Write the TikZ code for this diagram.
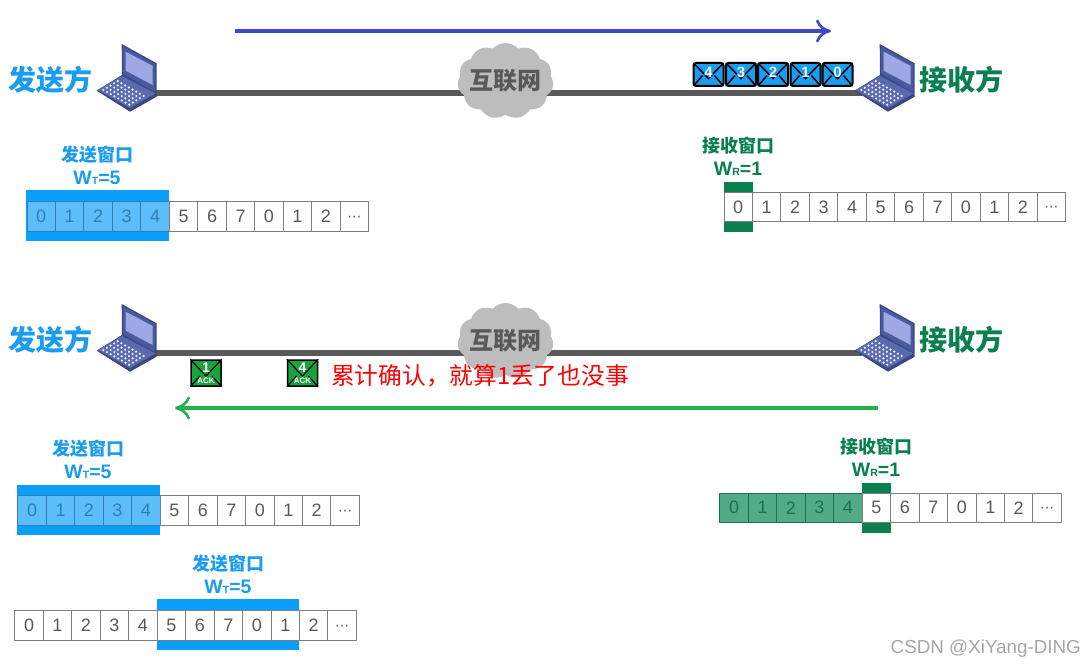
\documentclass[tikz,border=0pt]{standalone}
\usepackage{fontspec}
\setmainfont{Liberation Sans}
\newfontfamily\cjk{Noto Sans CJK SC}
\newfontfamily\sym{DejaVu Sans}
\usetikzlibrary{shapes.symbols,arrows.meta}
\definecolor{sendblue}{HTML}{1A9CF0}
\definecolor{bandblue}{HTML}{0A9FFA}
\definecolor{cellblue}{HTML}{5CBDFB}
\definecolor{digblue}{HTML}{2F7FB5}
\definecolor{recvgreen}{HTML}{0A7F4F}
\definecolor{cellgreen}{HTML}{52AB87}
\definecolor{diggreen}{HTML}{1F6E50}
\definecolor{linkgrey}{HTML}{595959}
\definecolor{cloudgrey}{HTML}{BDBDBD}
\definecolor{cellline}{HTML}{7F7F7F}
\definecolor{arrowblue}{HTML}{3F48CC}
\definecolor{arrowgreen}{HTML}{22B14C}
\definecolor{ackgreen}{HTML}{16A53C}
\definecolor{lapdark}{HTML}{3A4784}
\definecolor{lapframe}{HTML}{4A5A9F}
\definecolor{lapmid}{HTML}{5A6AAE}
\definecolor{lapscreen}{HTML}{9DA8E4}
\tikzset{
  cellbox/.style={draw=cellline,line width=1pt,minimum width=28.47pt,minimum height=29.5pt,inner sep=0pt,anchor=west,font=\fontsize{18}{18}\selectfont,text=linkgrey},
  link/.style={draw=linkgrey,line width=5.5pt},
  netcloud/.style={cloud,cloud puffs=11,cloud puff arc=95,aspect=1.25,fill=cloudgrey,draw=none,minimum width=96pt,minimum height=76pt,inner sep=0pt,
    label={[font=\cjk\bfseries\fontsize{24}{24}\selectfont,text=linkgrey]center:互联网}},
  bigside/.style={font=\cjk\bfseries\fontsize{28}{28}\selectfont,inner sep=0pt},
  wintitle/.style={font=\cjk\bfseries\fontsize{18}{18}\selectfont,inner sep=0pt},
  winsize/.style={font=\bfseries\fontsize{19.5}{20}\selectfont,inner sep=0pt},
  flow/.style={line width=4.5pt,-{Computer Modern Rightarrow[length=15pt,width=23pt,line width=2.6pt]}},
  envbox/.style={draw=black,line width=2pt,rounded corners=2.5pt,minimum width=30pt,minimum height=23pt,inner sep=0pt,fill=sendblue},
  ackbox/.style={draw=black,line width=1.5pt,rounded corners=1pt,minimum width=30pt,minimum height=26pt,inner sep=0pt,fill=ackgreen},
  laptop/.pic={
    \fill[lapdark] (24.7,0) -- (59.7,19.3) -- (59.7,52.7) -- (33,67.7) -- (-0.3,46.7) -- (25,31) -- cycle;
    \fill[lapframe] (26,2.5) -- (58,20) -- (58,48) -- (26,30) -- cycle;
    \fill[lapscreen] (28.7,7.7) -- (55.7,22) -- (55.7,41) -- (28.7,26.7) -- cycle;
    \fill[lapmid] (0.5,46) -- (25,32) -- (58.5,49.5) -- (33,64) -- cycle;
    \foreach \i in {0,...,7}{\foreach \j in {0,...,4}{
      \fill[white!80!lapscreen] ({6.3+\i*3.7+\j*3.6},{46+\i*2.1-\j*2.2}) circle (1.25pt);}}
  },
}
\newcommand\cellrow[6]{% name, x, y, shaded count, fill, digit colour
  \foreach \d [count=\i from 0] in {0,1,2,3,4,5,6,7,0,1,2,{\raisebox{-5pt}[0pt][0pt]{\sym\fontsize{14}{14}\selectfont ⋯}}}{
    \pgfmathsetmacro\cx{#2+\i*28.47}
    \ifnum\i<#4\relax
      \node[cellbox,fill=#5,text=#6,draw=#6] (#1-\i) at (\cx,#3) {\d};
    \else
      \node[cellbox,fill=white] (#1-\i) at (\cx,#3) {\d};
    \fi
  }}
\newcommand\envelope[4]{% name, x, y, digit
  \node[envbox] (#1) at (#2,#3) {};
  \draw[black,line width=1.5pt] ([shift={(1pt,-1pt)}]#1.north west) -- ([yshift=-4pt]#1.center) -- ([shift={(-1pt,-1pt)}]#1.north east);
  \draw[black,line width=1.5pt] ([shift={(1pt,1pt)}]#1.south west) -- ([xshift=-6pt,yshift=-1pt]#1.center) ([xshift=6pt,yshift=-1pt]#1.center) -- ([shift={(-1pt,1pt)}]#1.south east);
  \node[text=white!92!sendblue,font=\bfseries\fontsize{15}{15}\selectfont,inner sep=0pt] at ([yshift=2.5pt]#1.center) {#4};}
\newcommand\ackenv[4]{% name, x, y, digit
  \node[ackbox] (#1) at (#2,#3) {};
  \draw[black,line width=1.2pt] (#1.north west) -- ([yshift=-3pt]#1.center) -- (#1.north east);
  \draw[black,line width=1.2pt] (#1.south west) -- ([xshift=-6pt,yshift=-3pt]#1.center) ([xshift=6pt,yshift=-3pt]#1.center) -- (#1.south east);
  \node[text=white,font=\bfseries\fontsize{14}{14}\selectfont,inner sep=0pt] at ([yshift=5pt]#1.center) {#4};
  \node[text=white,font=\bfseries\fontsize{8}{8}\selectfont,inner sep=0pt] at ([yshift=-8pt]#1.center) {ACK};}
\newcommand\wsub[2]{W{\fontsize{10.5}{11}\selectfont #1}=#2}
\begin{document}
\begin{tikzpicture}[x=1pt,y=-1pt]
\useasboundingbox (0,0) rectangle (1085,666);
% ---- top half
\coordinate (s1) at (156,93);
\coordinate (r1) at (862,93);
\coordinate (flowA) at (235,31);
\coordinate (flowB) at (831,31);
\draw[link] (s1) -- (r1);
\node[netcloud] (net1) at (505.5,81) {};
\pic at (97,44) {laptop};
\pic at (855,44) {laptop};
\node[bigside,text=sendblue] (send1) at (50.5,80) {发送方};
\node[bigside,text=recvgreen] (recv1) at (961,80) {接收方};
\draw[flow,draw=arrowblue] (flowA) -- (flowB);
\envelope{e4}{708.5}{74.5}{4}
\envelope{e3}{741}{74.5}{3}
\envelope{e2}{773}{74.5}{2}
\envelope{e1}{805.5}{74.5}{1}
\envelope{e0}{837.5}{74.5}{0}
% sender window, row 1
\fill[bandblue] (26,190.3) rectangle (169,240.7);
\cellrow{a}{26.5}{216.3}{5}{cellblue}{digblue}
\node[wintitle,text=sendblue] (t1) at (97,155) {发送窗口};
\node[winsize,text=sendblue] (w1) at (97,178) {\wsub{T}{5}};
% receiver window, row 1
\fill[recvgreen] (723.5,181.7) rectangle (753,231.7);
\cellrow{b}{723.5}{207}{0}{white}{linkgrey}
\node[wintitle,text=recvgreen] (t2) at (738,146) {接收窗口};
\node[winsize,text=recvgreen] (w2) at (738,169) {\wsub{R}{1}};
% ---- lower half
\coordinate (s2) at (156,353);
\coordinate (r2) at (862,353);
\coordinate (flowC) at (878,408);
\coordinate (flowD) at (175,408);
\draw[link] (s2) -- (r2);
\node[netcloud] (net2) at (505.5,341) {};
\pic at (97,304) {laptop};
\pic at (855,304) {laptop};
\node[bigside,text=sendblue] (send2) at (50.5,340) {发送方};
\node[bigside,text=recvgreen] (recv2) at (961,340) {接收方};
\ackenv{k1}{206}{373}{1}
\ackenv{k4}{302.5}{373}{4}
\node[anchor=west,inner sep=0pt,text=red,font=\cjk\fontsize{23.7}{24}\selectfont] (note) at (331,376) {累计确认，就算1丢了也没事};
\draw[flow,draw=arrowgreen] (flowC) -- (flowD);
% sender window, row 2
\fill[bandblue] (16.7,485) rectangle (160,535);
\cellrow{c}{17.3}{510.5}{5}{cellblue}{digblue}
\node[wintitle,text=sendblue] (t3) at (88,449) {发送窗口};
\node[winsize,text=sendblue] (w3) at (88,472) {\wsub{T}{5}};
% sender window, row 3
\fill[bandblue] (156.7,599.3) rectangle (299,650);
\cellrow{d}{14.3}{625.5}{0}{white}{linkgrey}
\node[wintitle,text=sendblue] (t4) at (228,564) {发送窗口};
\node[winsize,text=sendblue] (w4) at (228,587) {\wsub{T}{5}};
% receiver window, row 2
\fill[recvgreen] (861.7,482.7) rectangle (891,532.7);
\cellrow{f}{719.3}{507.8}{5}{cellgreen}{diggreen}
\node[wintitle,text=recvgreen] (t5) at (876,447) {接收窗口};
\node[winsize,text=recvgreen] (w5) at (876,470) {\wsub{R}{1}};
% watermark
\node[anchor=east,inner sep=0pt,text=black!35,font=\fontsize{18.8}{19}\selectfont] (mark) at (1081,649) {CSDN @XiYang-DING};
\end{tikzpicture}
\end{document}
